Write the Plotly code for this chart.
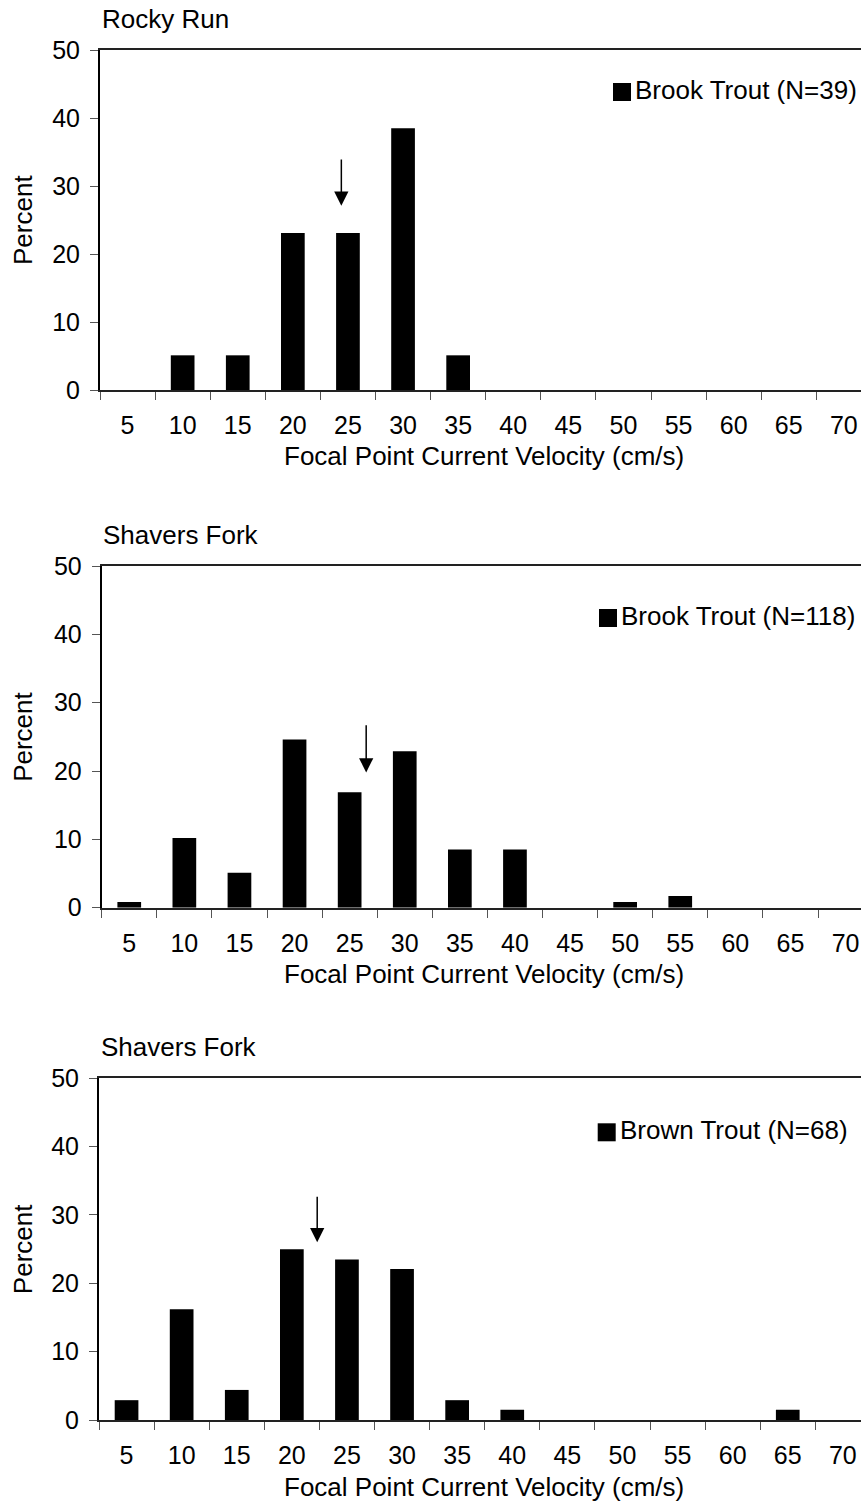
import plotly.graph_objects as go

# Focal point current velocity classes (cm/s)
velocity_classes = ["5", "10", "15", "20", "25", "30", "35",
                    "40", "45", "50", "55", "60", "65", "70"]

# Percent of observed fish in each velocity class
rocky_run_brook = [0, 5.1, 5.1, 23.1, 23.1, 38.5, 5.1, 0, 0, 0, 0, 0, 0, 0]
shavers_fork_brook = [0.85, 10.2, 5.1, 24.6, 16.9, 22.9, 8.5, 8.5, 0, 0.85, 1.7, 0, 0, 0]
shavers_fork_brown = [2.9, 16.2, 4.4, 25.0, 23.5, 22.1, 2.9, 1.5, 0, 0, 0, 0, 1.5, 0]

site_names = ["Rocky Run", "Shavers Fork", "Shavers Fork"]
series_names = ["Brook Trout (N=39)", "Brook Trout (N=118)", "Brown Trout (N=68)"]
series_values = [rocky_run_brook, shavers_fork_brook, shavers_fork_brown]

# Mean focal velocity marker (cm/s) and the arrow's vertical extent (percent)
mean_velocity = [24.4, 26.5, 22.3]
arrow_tip = [27.1, 19.8, 26.0]
arrow_tail = [34.1, 26.9, 32.9]

W, H = 861, 1503
FONT = "Arial, Liberation Sans, sans-serif"
TICK_FS = 25
TEXT_FS = 26
CAT_PX = 55.1  # pixel width of one velocity class

# Panel placement in pixels: plot-area left edge, top (50 %) and bottom (0 %)
panel_left = [100, 101.7, 99]
panel_top = [50, 566, 1078.3]
panel_bottom = [390, 907.7, 1420]
legend_box = [(613, 83), (599, 609), (597.7, 1123.3)]  # top-left of legend swatch
legend_text_x = [635, 621, 620]


def px(x):
    return x / W


def py(y):
    return 1 - y / H


fig = go.Figure()
annotations = []
shapes = []

for i in range(3):
    n = "" if i == 0 else str(i + 1)
    xa, ya = "x" + n, "y" + n
    fig.add_trace(go.Bar(
        x=velocity_classes, y=series_values[i], name=series_names[i],
        marker=dict(color="black", line=dict(width=0)), width=0.43,
        xaxis=xa, yaxis=ya, showlegend=False,
    ))

    left, top, bottom = panel_left[i], panel_top[i], panel_bottom[i]
    xrange_end = -0.5 + (W - left) / CAT_PX
    fig.update_layout(**{
        "xaxis" + n: dict(
            domain=[px(left), 1], anchor=ya, type="category",
            categoryorder="array", categoryarray=velocity_classes,
            range=[-0.5, xrange_end], tickson="boundaries",
            ticks="outside", ticklen=8, tickwidth=1, tickcolor="#555",
            showline=True, linewidth=2, linecolor="#222", mirror=True,
            showgrid=False, zeroline=False, automargin=False,
            tickfont=dict(family=FONT, size=TICK_FS, color="black"),
            ticklabelstandoff=12,
        ),
        "yaxis" + n: dict(
            domain=[py(bottom), py(top)], anchor=xa, range=[0, 50],
            tickvals=[0, 10, 20, 30, 40, 50],
            ticks="outside", ticklen=8, tickwidth=1, tickcolor="#555",
            showline=True, linewidth=2, linecolor="black",
            showgrid=False, zeroline=False, automargin=False,
            tickfont=dict(family=FONT, size=TICK_FS, color="black"),
            ticklabelstandoff=5,
        ),
    })

    # Mean-velocity arrow
    idx = mean_velocity[i] / 5 - 1
    annotations.append(dict(
        x=idx, y=arrow_tip[i], ax=idx, ay=arrow_tail[i],
        xref=xa, yref=ya, axref=xa, ayref=ya, text="",
        showarrow=True, arrowhead=2, arrowsize=1.9, arrowwidth=1.5,
        arrowcolor="black", standoff=0,
    ))

    # Site title
    annotations.append(dict(
        text=site_names[i], x=px(left + 1.5), y=py(top - 31),
        xref="paper", yref="paper", xanchor="left", yanchor="middle",
        showarrow=False, borderpad=0, borderwidth=0,
        font=dict(family=FONT, size=TEXT_FS, color="black"),
    ))

    # Axis titles
    annotations.append(dict(
        text="Percent", x=px(23), y=py((top + bottom) / 2),
        xref="paper", yref="paper", xanchor="center", yanchor="middle",
        textangle=-90, showarrow=False, borderpad=0, borderwidth=0,
        font=dict(family=FONT, size=TEXT_FS, color="black"),
    ))
    annotations.append(dict(
        text="Focal Point Current Velocity (cm/s)", x=px(483.5),
        y=py(bottom + 66.5), xref="paper", yref="paper",
        xanchor="center", yanchor="middle", showarrow=False,
        borderpad=0, borderwidth=0,
        font=dict(family=FONT, size=TEXT_FS, color="black"),
    ))

    # Legend swatch and label
    sx, sy = legend_box[i]
    shapes.append(dict(
        type="rect", xref="paper", yref="paper",
        x0=px(sx), x1=px(sx + 18), y0=py(sy + 18), y1=py(sy),
        fillcolor="black", line=dict(width=0),
    ))
    annotations.append(dict(
        text=series_names[i], x=px(legend_text_x[i]), y=py(sy + 7),
        xref="paper", yref="paper", xanchor="left", yanchor="middle",
        showarrow=False, borderpad=0, borderwidth=0,
        font=dict(family=FONT, size=TEXT_FS, color="black"),
    ))

fig.update_layout(
    width=W, height=H, autosize=False,
    margin=dict(l=0, r=0, t=0, b=0, autoexpand=False),
    paper_bgcolor="white", plot_bgcolor="white",
    showlegend=False,
    annotations=annotations, shapes=shapes,
    font=dict(family=FONT, size=TICK_FS, color="black"),
)

fig.write_html("out.html")
